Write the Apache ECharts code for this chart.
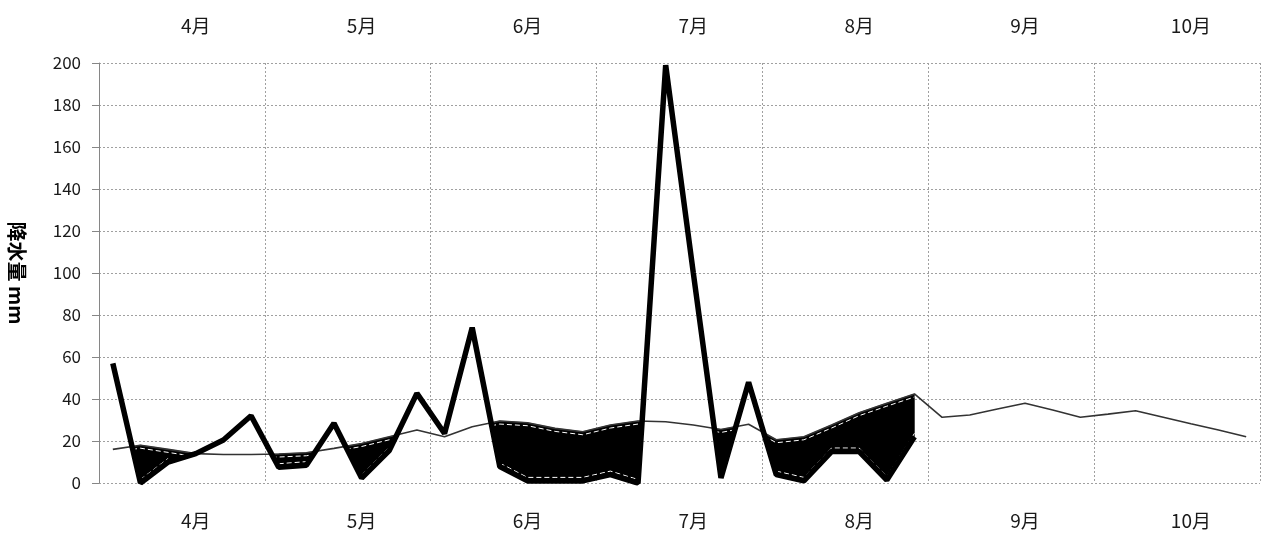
<!DOCTYPE html>
<html><head><meta charset="utf-8">
<script src="https://cdn.jsdelivr.net/npm/echarts@6/dist/echarts.min.js"></script>
<style>html,body{margin:0;padding:0;background:#fff}#c{width:1266px;height:542px}</style>
</head><body><div id="c"></div>
<script>
// month labels (x axis), each month split into 6 half-dekad periods
const months = ['4月','5月','6月','7月','8月','9月','10月'];
const periodsPerMonth = 6;
// normal (average) precipitation per period, mm
const normalRain = [16, 18, 16, 14, 13.6, 13.6, 13.8, 14.4, 16.5, 18.8, 22, 25.2, 22, 26.8,
  29.5, 28.7, 26, 24.4, 27.6, 29.5, 29.2, 27.6, 25.5, 28, 20.6, 22, 27.6, 33.5, 38, 42.4,
  31.3, 32.4, 35.2, 38, 34.8, 31.3, 32.8, 34.4, 31.3, 28.2, 25.2, 22];
// this year's precipitation per period, mm
const thisYearRain = [57, 0, 10, 14, 20.5, 32, 7.5, 8.5, 28.5, 2.4, 15.5, 42.7, 23.6, 74,
  7.8, 1, 1, 1, 4, 0, 199, 100, 2.4, 48, 4, 1, 15, 15, 1.4, 22];
const yMin = 0, yMax = 200, yStep = 20;
const yAxisName = '降水量 mm';

const categories = [];
months.forEach(m => { for (let k = 1; k <= periodsPerMonth; k++) categories.push(m + k); });
const nCat = categories.length;
const FONT = '"Noto Sans CJK JP", "Noto Sans", sans-serif';

// deficit runs: regions where this year's rain is below normal
function deficitRuns() {
  const runs = [];
  let cur = null, prevD = null;
  for (let i = 0; i < thisYearRain.length; i++) {
    const a = thisYearRain[i], n = normalRain[i], d = n - a, x = i + 0.5;
    if (i > 0 && (prevD > 0) !== (d > 0)) {
      const a0 = thisYearRain[i - 1];
      const t = prevD / (prevD - d);
      const c = [x - 1 + t, a0 + t * (a - a0)];
      if (cur) { cur.top.push(c); runs.push(cur); cur = null; }
      else { cur = { top: [c], bot: [] }; }
    }
    if (d > 0) {
      if (!cur) cur = { top: [], bot: [] };
      cur.top.push([x, n]); cur.bot.push([x, a]);
    }
    prevD = d;
  }
  if (cur) runs.push(cur);
  return runs;
}

function renderFill(params, api) {
  if (params.dataIndex !== 0) return null;
  const children = [];
  deficitRuns().forEach(r => {
    const top = r.top.map(p => api.coord(p));
    const bot = r.bot.map(p => api.coord(p));
    children.push({ type: 'polygon', shape: { points: top.concat(bot.slice().reverse()) },
      style: { fill: '#000', stroke: '#000', lineWidth: 0.5 } });
    children.push({ type: 'polyline', shape: { points: top.map(p => [p[0], p[1] + 3]) },
      style: { fill: null, stroke: '#fff', lineWidth: 1, lineDash: [5, 3] } });
    if (bot.length > 1) children.push({ type: 'polyline', shape: { points: bot.map(p => [p[0], p[1] - 3.5]) },
      style: { fill: null, stroke: '#fff', lineWidth: 1, lineDash: [5, 3] } });
  });
  return { type: 'group', children };
}

const monthLabel = (pos) => ({
  type: 'category', position: pos, data: categories, boundaryGap: true,
  axisLine: { show: false }, axisTick: { show: false }, splitLine: { show: false },
  axisLabel: {
    interval: (idx) => idx % periodsPerMonth === 3,
    formatter: (v, idx) => months[Math.floor(idx / periodsPerMonth)],
    margin: 28, fontSize: 19, color: '#1a1a1a', fontFamily: FONT
  }
});

const chart = echarts.init(document.getElementById('c'), null, { renderer: 'canvas' });
chart.setOption({
  animation: false,
  backgroundColor: '#fff',
  grid: { left: 99, right: 6, top: 63, bottom: 59, outerBoundsMode: 'none', containLabel: false },
  xAxis: [
    { type: 'value', position: 'bottom', min: 0, max: nCat, interval: periodsPerMonth,
      axisLine: { show: false }, axisTick: { show: false }, axisLabel: { show: false },
      splitLine: { show: true, lineStyle: { type: [2, 2], color: '#a0a0a0', width: 1 } } },
    monthLabel('bottom'),
    monthLabel('top')
  ],
  yAxis: {
    type: 'value', min: yMin, max: yMax, interval: yStep,
    axisLine: { show: true, lineStyle: { color: '#868686', width: 1 } },
    axisTick: { show: true, length: 7, lineStyle: { color: '#868686' } },
    axisLabel: { fontSize: 17, margin: 18, color: '#1a1a1a', fontFamily: FONT },
    splitLine: { show: true, lineStyle: { type: [2, 2], color: '#a0a0a0', width: 1 } },
    name: yAxisName, nameLocation: 'middle', nameRotate: -90, nameGap: 72,
    nameTextStyle: { fontSize: 20, fontWeight: 'bold', color: '#000', fontFamily: FONT }
  },
  series: [
    { type: 'custom', xAxisIndex: 0, renderItem: renderFill, data: [[0, 0]],
      encode: { x: 0, y: 1 }, z: 2, silent: true },
    { type: 'line', xAxisIndex: 0, data: normalRain.map((v, i) => [i + 0.5, v]),
      symbol: 'none', lineStyle: { color: '#333', width: 1.6 }, z: 3 },
    { type: 'line', xAxisIndex: 0, data: thisYearRain.map((v, i) => [i + 0.5, v]),
      symbol: 'none', lineStyle: { color: '#000', width: 5.5 }, z: 4 }
  ]
});
</script></body></html>
